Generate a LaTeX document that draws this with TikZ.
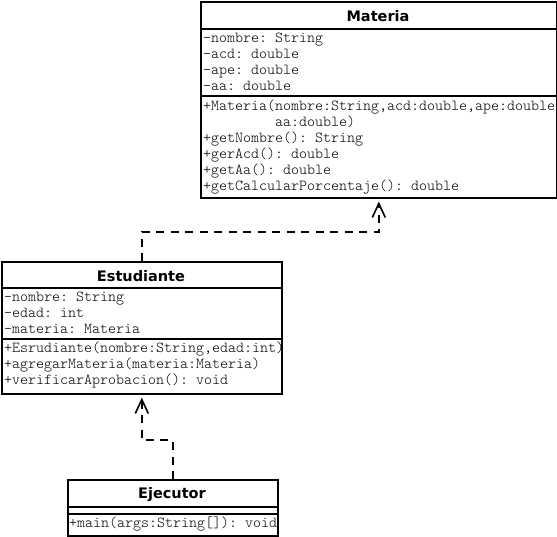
\documentclass[tikz,border=0pt]{standalone}
\usepackage{fontspec}
\setmonofont{lmmonolt10-regular.otf}
\newfontfamily\titlefont{DejaVu Sans}
\usetikzlibrary{arrows.meta}
\begin{document}
\begin{tikzpicture}[x=1pt,y=-1pt,
  classbox/.style={draw, line width=1.6pt, inner sep=0pt, anchor=north west},
  sepline/.style={line width=1.4pt},
  mono/.style={font=\ttfamily\fontsize{15.24}{16}\selectfont, anchor=base west, inner sep=0pt},
  ctitle/.style={font=\titlefont\bfseries\fontsize{14.5}{16}\selectfont, anchor=base, inner sep=0pt},
  dep/.style={line width=1.6pt, dash pattern=on 8pt off 6.5pt, shorten >=3pt,
    -{Straight Barb[length=14pt,width=13pt,line width=1.6pt]}}]
\useasboundingbox (0,0) rectangle (557,536);
% ---- Materia text
\node[ctitle] (matT) at (378,21) {Materia};
\node[mono] (ma1) at (203,42) {-nombre: String};
\node[mono] (ma2) at (203,58) {-acd: double};
\node[mono] (ma3) at (203,74) {-ape: double};
\node[mono] (ma4) at (203,90) {-aa: double};
\node[mono] (mm1) at (203,110) {+Materia(nombre:String,acd:double,ape:double};
\node[mono] (mm2) at (203,126) {\ \ \ \ \ \ \ \ \ aa:double)};
\node[mono] (mm3) at (203,142) {+getNombre(): String};
\node[mono] (mm4) at (203,158) {+gerAcd(): double};
\node[mono] (mm5) at (203,174) {+getAa(): double};
\node[mono] (mm6) at (203,190) {+getCalcularPorcentaje(): double};
% ---- Estudiante text
\node[ctitle] (estT) at (141,281) {Estudiante};
\node[mono] (ea1) at (4,301) {-nombre: String};
\node[mono] (ea2) at (4,317) {-edad: int};
\node[mono] (ea3) at (4,333) {-materia: Materia};
\node[mono] (em1) at (4,352) {+Esrudiante(nombre:String,edad:int)};
\node[mono] (em2) at (4,368) {+agregarMateria(materia:Materia)};
\node[mono] (em3) at (4,384) {+verificarAprobacion(): void};
% ---- Ejecutor text
\node[ctitle] (ejeT) at (172,498) {Ejecutor};
\node[mono] (jm1) at (69,527) {+main(args:String[]): void};
% ---- boxes
\node[classbox, minimum width=356pt, minimum height=196pt] (mat) at (200,1) {};
\node[classbox, minimum width=280pt, minimum height=132pt] (est) at (1,261) {};
\node[classbox, minimum width=210pt, minimum height=56pt] (eje) at (67,479) {};
\draw[sepline] (mat.west |- 0,29) -- (mat.east |- 0,29);
\draw[sepline] (mat.west |- 0,96) -- (mat.east |- 0,96);
\draw[sepline] (est.west |- 0,288) -- (est.east |- 0,288);
\draw[sepline] (est.west |- 0,339) -- (est.east |- 0,339);
\draw[sepline] (eje.west |- 0,507) -- (eje.east |- 0,507);
\draw[sepline] (eje.west |- 0,514) -- (eje.east |- 0,514);
% ---- connectors
\draw[dep] (est.north) -- (est.north |- 0,232) -- (mat.south |- 0,232) -- (mat.south);
\draw[dep] (eje.north) -- (eje.north |- 0,440) -- (est.south |- 0,440) -- (est.south);
\end{tikzpicture}
\end{document}
